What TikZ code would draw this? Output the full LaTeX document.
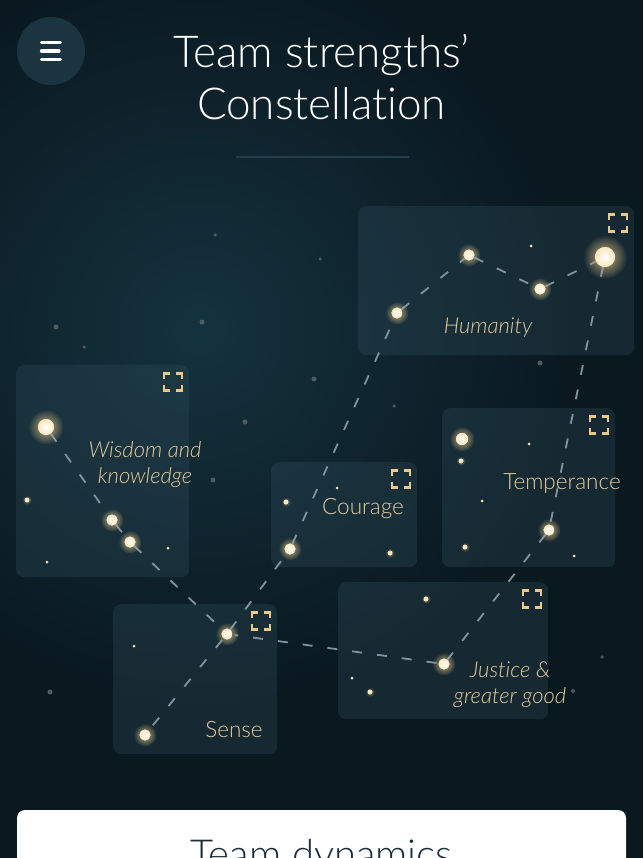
\documentclass[tikz,border=0pt]{standalone}
\usepackage{fontspec}
\setmainfont{Lato}[Extension=.ttf, UprightFont=*-Light, ItalicFont=*-LightItalic, Ligatures=CommonOff]
\usepackage{xcolor}
\usetikzlibrary{positioning,calc,shadows,fadings}

\definecolor{bgdark}{HTML}{0A1820}
\definecolor{bgglow}{HTML}{15333E}
\definecolor{panelcol}{HTML}{2E4B58}
\definecolor{menucol}{HTML}{1B3440}
\definecolor{linkcol}{HTML}{8094A0}
\definecolor{starcore}{HTML}{FBE6BE}
\definecolor{starglow}{HTML}{F2CF8E}
\definecolor{dimcol}{HTML}{4C5C61}
\definecolor{goldtext}{HTML}{E4CC9B}
\definecolor{iconcol}{HTML}{EBC988}
\definecolor{rulecol}{HTML}{243F4B}
\definecolor{cardtext}{HTML}{1A2E3A}

\tikzfading[name=halofade, inner color=transparent!0, outer color=transparent!100]

\begin{document}
\begin{tikzpicture}[x=1pt, y=-1pt,
    % Define styles for panels, stars and links
    panel/.style={fill=panelcol, fill opacity=.35, rounded corners=8pt, anchor=north west, inner sep=0pt},
    halo/.style={general shadow={shadow scale=#1, path fading=halofade, fill=starglow, opacity=.45}},
    starbase/.style={circle, inner sep=0pt, shading=radial, inner color=white, outer color=starcore},
    bigstar/.style={starbase, minimum size=16pt, halo=2.2},
    brightstar/.style={starbase, minimum size=11pt, halo=2.1},
    smallstar/.style={circle, inner sep=0pt, fill=starcore, minimum size=5pt, halo=2},
    tinystar/.style={circle, inner sep=0pt, fill=starcore, minimum size=3pt},
    dimstar/.style={circle, inner sep=0pt, fill=dimcol, minimum size=#1},
    link/.style={draw=linkcol, line width=1.8pt, dash pattern=on 10pt off 15pt, shorten <=2pt, shorten >=2pt},
    caption/.style={font=\fontsize{22.5}{26}\selectfont, text=goldtext, anchor=base, align=center, inner sep=0pt},
    slanted/.style={caption, font=\fontsize{22}{26}\selectfont\itshape},
    heading/.style={font=\fontsize{44}{50}\selectfont, text=white, anchor=base, inner sep=0pt},
    icon/.style={draw=iconcol, line width=2.6pt},
    burger/.style={draw=white, line width=3.2pt, line cap=round},
    expand/.pic={
      \draw[icon] (-9,-3) -- (-9,-8.5) -- (-3,-8.5);
      \draw[icon] (3,-8.5) -- (9,-8.5) -- (9,-3);
      \draw[icon] (9,3) -- (9,8.5) -- (3,8.5);
      \draw[icon] (-3,8.5) -- (-9,8.5) -- (-9,3);
    }
  ]

  % Page size and night sky
  \useasboundingbox (0,0) rectangle (643,858);
  \fill[bgdark] (0,0) rectangle (643,858);
  \fill[bgglow, path fading=halofade] (200,330) circle (380pt);

  % Faint background stars
  \foreach \x/\y/\s [count=\i] in {215/235/3.5, 320/259/3.5, 56/327/5, 84/347/3.5, 202/322/5,
      314/379/5, 245/422/5, 213/480/5, 540/363/5, 394/406/3.5, 50/692/5, 602/657/3.5, 573/691/4} {
    \node[dimstar=\s pt] (dim\i) at (\x,\y) {};
  }

  % Strength panels
  \node[panel, minimum width=276pt, minimum height=149pt] (humanity) at (358,206) {};
  \node[panel, minimum width=173pt, minimum height=212pt] (wisdom) at (16,365) {};
  \node[panel, minimum width=146pt, minimum height=105pt] (courage) at (271,462) {};
  \node[panel, minimum width=173pt, minimum height=159pt] (temperance) at (442,408) {};
  \node[panel, minimum width=164pt, minimum height=150pt] (sense) at (113,604) {};
  \node[panel, minimum width=210pt, minimum height=137pt] (justice) at (338,582) {};

  % Expand icons in the panel corners
  \foreach \p in {humanity, wisdom, courage, temperance, sense, justice} {
    \pic at ($(\p.north east)+(-16.5,17)$) {expand};
  }

  % Constellation stars
  \node[brightstar] (h1) at (397,313) {};
  \node[brightstar] (h2) at (469,255) {};
  \node[brightstar] (h3) at (540,289) {};
  \node[bigstar, minimum size=20pt] (h4) at (605,257) {};
  \node[bigstar] (w1) at (46,427) {};
  \node[brightstar] (w2) at (112,520) {};
  \node[brightstar] (w3) at (130,542) {};
  \node[brightstar] (c1) at (290,549) {};
  \node[brightstar, minimum size=12pt] (t1) at (462,439) {};
  \node[brightstar] (t2) at (549,530) {};
  \node[brightstar] (s1) at (227,634) {};
  \node[brightstar] (s2) at (145,735) {};
  \node[brightstar] (j1) at (444,664) {};

  % Dashed constellation lines
  \draw[link] (w1) -- (w2) -- (w3) -- (s1) -- (s2);
  \draw[link] (s1) -- (c1) -- (h1) -- (h2) -- (h3) -- (h4) -- (t2) -- (j1) -- (s1);

  % Redraw stars above the lines
  \foreach \n in {h1,h2,h3,w2,w3,c1,t2,s1,s2,j1} {
    \node[brightstar] at (\n) {};
  }
  \node[bigstar, minimum size=20pt] at (h4) {};
  \node[bigstar] at (w1) {};
  \node[brightstar, minimum size=12pt] at (t1) {};

  % Small stars inside the panels
  \foreach \x/\y [count=\i] in {27/500, 286/502, 390/553, 461/461, 465/547, 426/599, 370/692} {
    \node[smallstar] (small\i) at (\x,\y) {};
  }
  \foreach \x/\y [count=\i] in {531/246, 47/562, 168/548, 337/488, 529/444, 482/501, 574/556, 134/646, 352/678} {
    \node[tinystar] (tiny\i) at (\x,\y) {};
  }

  % Panel captions
  \node[slanted] (humanitylbl) at (488,333) {Humanity};
  \node[slanted] (wisdomlbl) at (145,483) {Wisdom and\\knowledge};
  \node[caption] (couragelbl) at (363,514) {Courage};
  \node[caption] (temperancelbl) at (562,489) {Temperance};
  \node[caption] (senselbl) at (234,737) {Sense};
  \node[slanted] (justicelbl) at (510,703) {Justice \&\\greater good};

  % Header with menu button and title
  \node[circle, fill=menucol, minimum size=68pt] (menu) at (51,51) {};
  \foreach \dy/\len in {-8.5/19, 0/17.5, 8.5/19} {
    \draw[burger] ($(menu.center)+(-9.5,\dy)$) -- ++(\len,0);
  }
  \node[heading] (title1) at (321.5,68) {Team strengths’};
  \node[heading] (title2) at (321.5,120) {Constellation};
  \draw[rulecol, line width=2pt] (236,157) -- (409,157);

  % Bottom card
  \fill[white, rounded corners=8pt] (17,810) rectangle (626,900);
  \node[heading, text=cardtext, font=\fontsize{40}{46}\selectfont] (dynamics) at (321.5,868) {Team dynamics};

\end{tikzpicture}
\end{document}
